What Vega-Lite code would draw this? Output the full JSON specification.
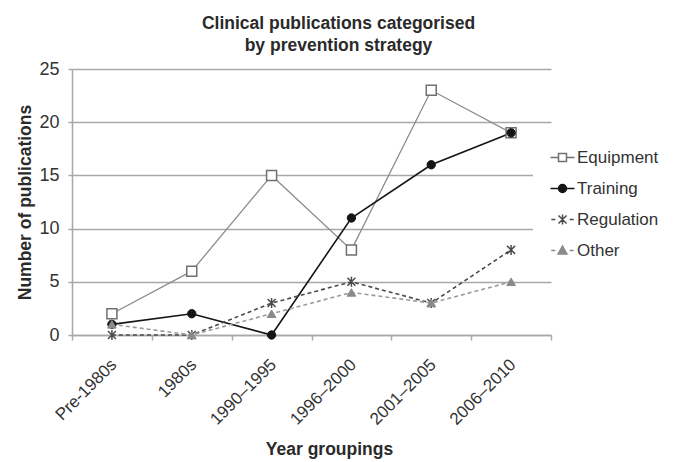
{
  "$schema": "https://vega.github.io/schema/vega-lite/v6.json",
  "autosize": "none",
  "width": 479,
  "height": 266,
  "padding": {"left": 72, "top": 69, "right": 125, "bottom": 127},
  "background": "white",
  "title": {
    "text": ["Clinical publications categorised", "by prevention strategy"],
    "font": "Liberation Sans",
    "fontSize": 17.5,
    "fontWeight": "bold",
    "color": "#2a2a2a",
    "anchor": "middle",
    "dx": 27,
    "offset": 6,
    "lineHeight": 22
  },
  "config": {
    "view": {"stroke": null},
    "font": "Liberation Sans",
    "legend": {
      "orient": "none",
      "legendX": 461,
      "legendY": 59,
      "padding": 21,
      "fillColor": "white",
      "title": null,
      "symbolSize": 64,
      "symbolStrokeWidth": 1.5,
      "symbolOpacity": 1,
      "labelFont": "Liberation Sans",
      "labelFontSize": 17,
      "labelColor": "#333333",
      "labelOffset": 6,
      "rowPadding": 13
    }
  },
  "data": {
    "values": [
      {"period": "Pre-1980s", "series": "Equipment", "value": 2},
      {"period": "1980s", "series": "Equipment", "value": 6},
      {"period": "1990–1995", "series": "Equipment", "value": 15},
      {"period": "1996–2000", "series": "Equipment", "value": 8},
      {"period": "2001–2005", "series": "Equipment", "value": 23},
      {"period": "2006–2010", "series": "Equipment", "value": 19},
      {"period": "Pre-1980s", "series": "Training", "value": 1},
      {"period": "1980s", "series": "Training", "value": 2},
      {"period": "1990–1995", "series": "Training", "value": 0},
      {"period": "1996–2000", "series": "Training", "value": 11},
      {"period": "2001–2005", "series": "Training", "value": 16},
      {"period": "2006–2010", "series": "Training", "value": 19},
      {"period": "Pre-1980s", "series": "Regulation", "value": 0},
      {"period": "1980s", "series": "Regulation", "value": 0},
      {"period": "1990–1995", "series": "Regulation", "value": 3},
      {"period": "1996–2000", "series": "Regulation", "value": 5},
      {"period": "2001–2005", "series": "Regulation", "value": 3},
      {"period": "2006–2010", "series": "Regulation", "value": 8},
      {"period": "Pre-1980s", "series": "Other", "value": 1},
      {"period": "1980s", "series": "Other", "value": 0},
      {"period": "1990–1995", "series": "Other", "value": 2},
      {"period": "1996–2000", "series": "Other", "value": 4},
      {"period": "2001–2005", "series": "Other", "value": 3},
      {"period": "2006–2010", "series": "Other", "value": 5}
    ]
  },
  "encoding": {
    "x": {
      "field": "period",
      "type": "nominal",
      "sort": ["Pre-1980s", "1980s", "1990–1995", "1996–2000", "2001–2005", "2006–2010"],
      "scale": {"paddingInner": 0, "paddingOuter": 0},
      "axis": {
        "title": "Year groupings",
        "titleFont": "Liberation Sans",
        "titleFontSize": 17.5,
        "titleFontWeight": "bold",
        "titleColor": "#2a2a2a",
        "titlePadding": 13,
        "titleX": 257,
        "labelAngle": -45,
        "labelFontSize": 17,
        "labelColor": "#333333",
        "labelPadding": 16,
        "labelOffset": -4,
        "tickBand": "extent",
        "tickSize": 5,
        "tickColor": "#a8a8a8",
        "tickWidth": 1.5,
        "domainColor": "#a8a8a8",
        "domainWidth": 1.5,
        "grid": false
      }
    },
    "y": {
      "field": "value",
      "type": "quantitative",
      "scale": {"domain": [0, 25], "nice": false},
      "axis": {
        "title": "Number of publications",
        "titleFont": "Liberation Sans",
        "titleFontSize": 17.5,
        "titleFontWeight": "bold",
        "titleColor": "#2a2a2a",
        "titlePadding": 4,
        "values": [0, 5, 10, 15, 20, 25],
        "labelFontSize": 18,
        "labelColor": "#333333",
        "labelPadding": 9,
        "tickSize": 4,
        "tickColor": "#a8a8a8",
        "tickWidth": 1.5,
        "domainColor": "#a8a8a8",
        "domainWidth": 1.5,
        "grid": true,
        "gridColor": "#a8a8a8",
        "gridWidth": 1.5
      }
    }
  },
  "layer": [
    {
      "transform": [{"filter": {"field": "series", "equal": "Equipment"}}],
      "mark": {"type": "line", "stroke": "#8c8c8c", "strokeWidth": 1.3}
    },
    {
      "transform": [{"filter": {"field": "series", "equal": "Training"}}],
      "mark": {"type": "line", "stroke": "#151515", "strokeWidth": 1.6}
    },
    {
      "transform": [{"filter": {"field": "series", "equal": "Regulation"}}],
      "mark": {"type": "line", "stroke": "#4a4a4a", "strokeWidth": 1.6, "strokeDash": [4, 3]}
    },
    {
      "transform": [{"filter": {"field": "series", "equal": "Other"}}],
      "mark": {"type": "line", "stroke": "#9a9a9a", "strokeWidth": 1.6, "strokeDash": [4, 3]}
    },
    {
      "transform": [{"filter": {"field": "series", "equal": "Equipment"}}],
      "mark": {"type": "point", "shape": "square", "size": 100, "filled": true, "fill": "white", "stroke": "#707070", "strokeWidth": 1.5, "opacity": 1}
    },
    {
      "transform": [{"filter": {"field": "series", "equal": "Training"}}],
      "mark": {"type": "point", "shape": "circle", "size": 70, "filled": true, "fill": "#151515", "stroke": "#151515", "strokeWidth": 1, "opacity": 1}
    },
    {
      "transform": [{"filter": {"field": "series", "equal": "Regulation"}}],
      "mark": {"type": "point", "shape": "M-1,-1L1,1M-1,1L1,-1M0,-1.25V1.25", "size": 64, "filled": false, "stroke": "#4a4a4a", "strokeWidth": 1.5, "opacity": 1}
    },
    {
      "transform": [{"filter": {"field": "series", "equal": "Other"}}],
      "mark": {"type": "point", "shape": "triangle-up", "size": 75, "filled": true, "fill": "#8a8a8a", "stroke": "#8a8a8a", "strokeWidth": 1, "opacity": 1}
    },
    {
      "transform": [{"filter": {"field": "series", "equal": "none"}}],
      "mark": {"type": "point", "filled": true, "opacity": 1},
      "encoding": {
        "shape": {
          "field": "series",
          "type": "nominal",
          "scale": {
            "domain": ["Equipment", "Training", "Regulation", "Other"],
            "range": [
              "M-3,0H-1M1,0H3M-1,-1H1V1H-1Z",
              "M-3,0H3M-1,0A1,1,0,1,0,1,0A1,1,0,1,0,-1,0Z",
              "M-2.8,0H-1.8M1.8,0H2.8M-1,-1L1,1M-1,1L1,-1M0,-1.25V1.25",
              "M-2.8,0H-1.8M1.8,0H2.8M0,-1.1L1.1,0.9H-1.1Z"
            ]
          }
        },
        "fill": {
          "field": "series",
          "type": "nominal",
          "scale": {
            "domain": ["Equipment", "Training", "Regulation", "Other"],
            "range": ["#ffffff", "#151515", "#4a4a4a", "#8a8a8a"]
          }
        },
        "stroke": {
          "field": "series",
          "type": "nominal",
          "scale": {
            "domain": ["Equipment", "Training", "Regulation", "Other"],
            "range": ["#707070", "#151515", "#4a4a4a", "#8a8a8a"]
          }
        }
      }
    }
  ]
}
